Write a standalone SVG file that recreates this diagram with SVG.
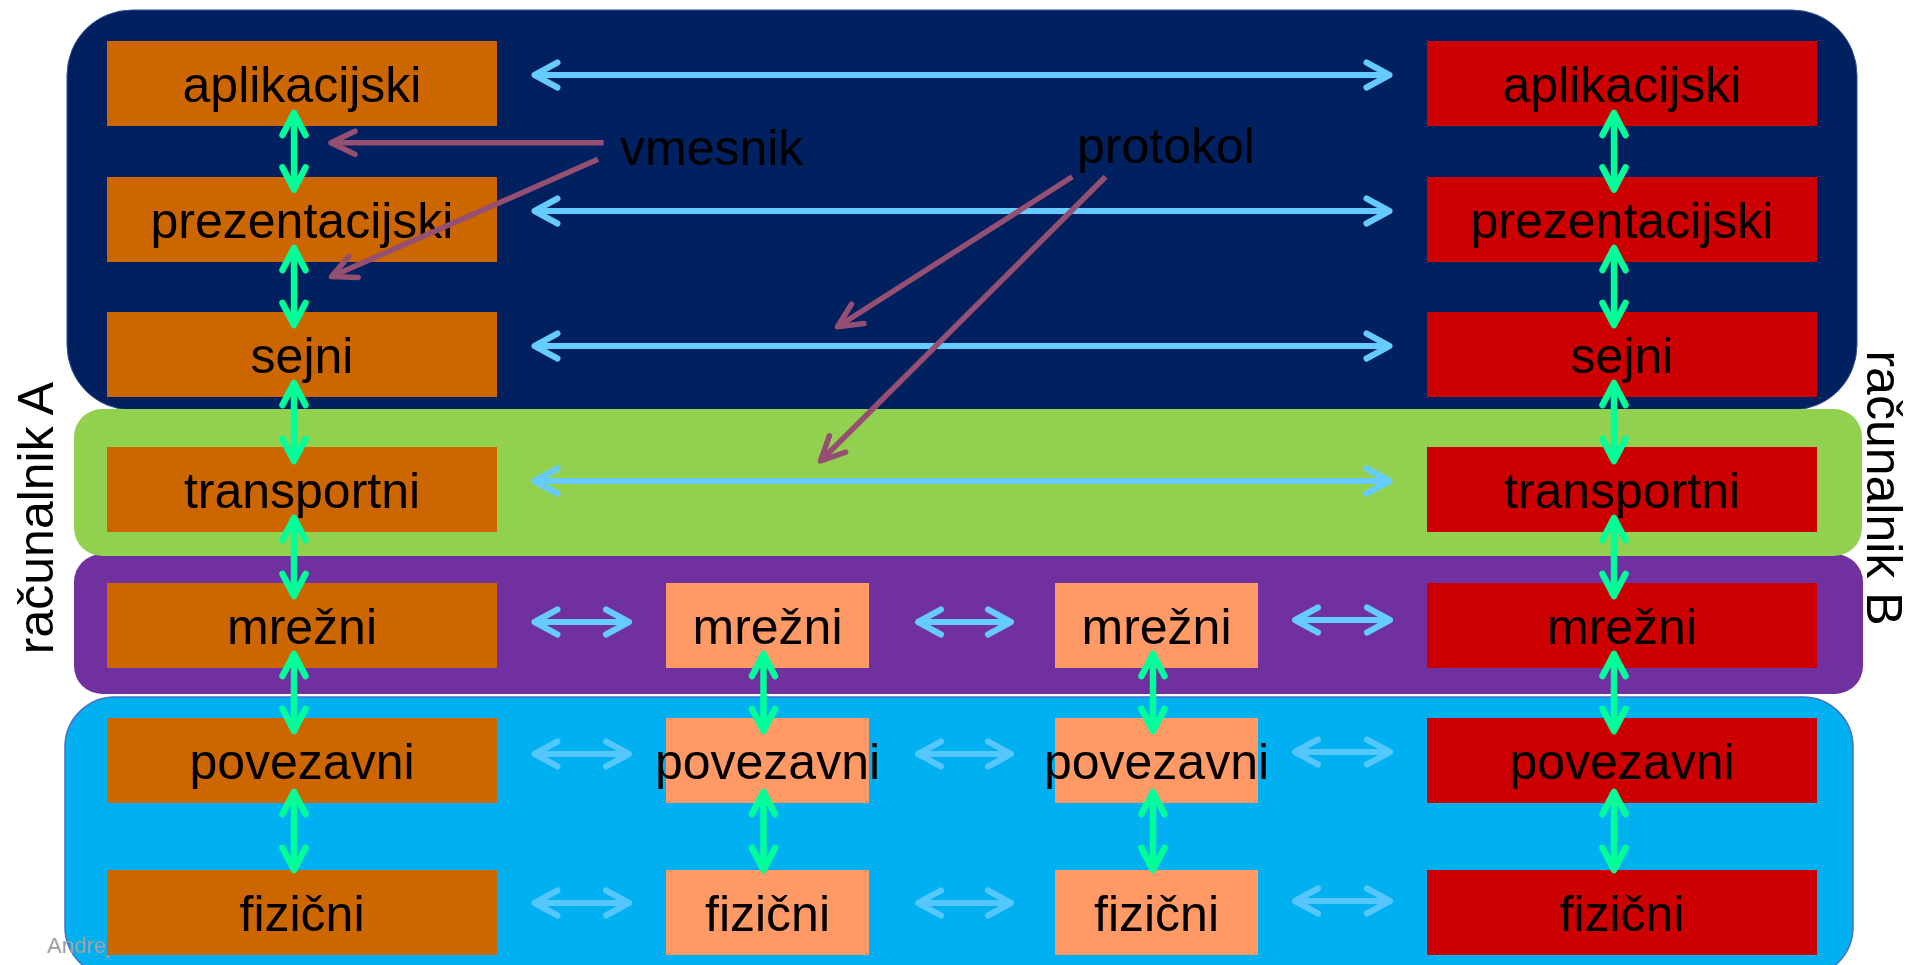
<svg xmlns="http://www.w3.org/2000/svg" width="1924" height="965" viewBox="0 0 1924 965">
<style>
.lbl{font-family:"Liberation Sans",Arial,sans-serif;font-size:50px;fill:#000;text-anchor:middle}
.free{font-family:"Liberation Sans",Arial,sans-serif;font-size:50px;fill:#000}
.a{fill:#CC6600}
.b{fill:#CC0000}
.r{fill:#FF9966}
.bl{stroke:#66CCFF;stroke-width:6;fill:none;marker-start:url(#hb);marker-end:url(#hb)}
.pale{opacity:0.85}
.gr{stroke:#00FF99;stroke-width:6.5;fill:none;marker-start:url(#hg);marker-end:url(#hg)}
.mv{stroke:#954F72;stroke-width:5.5;fill:none;marker-end:url(#hm)}
</style>
<defs>
<marker id="hb" markerUnits="userSpaceOnUse" markerWidth="40" markerHeight="40" refX="0" refY="0" orient="auto-start-reverse" overflow="visible">
<path d="M-23,-12.5 L0,0 L-23,12.5" fill="none" stroke="#66CCFF" stroke-width="6" stroke-linecap="round" stroke-linejoin="round"/>
</marker>
<marker id="hg" markerUnits="userSpaceOnUse" markerWidth="40" markerHeight="40" refX="0" refY="0" orient="auto-start-reverse" overflow="visible">
<path d="M-22,-11.5 L0,0 L-22,11.5" fill="none" stroke="#00FF99" stroke-width="6.5" stroke-linecap="round" stroke-linejoin="round"/>
</marker>
<marker id="hm" markerUnits="userSpaceOnUse" markerWidth="40" markerHeight="40" refX="0" refY="0" orient="auto" overflow="visible">
<path d="M-24,-11.5 L0,0 L-24,11.5" fill="none" stroke="#954F72" stroke-width="5.5" stroke-linecap="round" stroke-linejoin="round"/>
</marker>
</defs>
<rect width="1924" height="965" fill="#FFFFFF"/>
<g id="panels">
<rect x="67" y="10" width="1790" height="400" rx="65" ry="65" fill="#002060" stroke="#2F528F" stroke-width="1"/>
<rect x="74" y="554" width="1789" height="140" rx="28" ry="28" fill="#7030A0"/>
<rect x="74" y="409" width="1788" height="147" rx="28" ry="28" fill="#92D050"/>
<rect x="65" y="697" width="1788" height="280" rx="50" ry="50" fill="#00B0F0" stroke="#4472C4" stroke-width="1.5"/>
<text x="47" y="953" font-family="Liberation Sans, Arial, sans-serif" font-size="22" fill="#A0A0A0">Andrej</text>
</g>
<g id="labels">
<text class="free" x="620" y="165">vmesnik</text>
<text class="free" x="1077" y="163">protokol</text>
<text class="lbl" transform="translate(53,518) rotate(-90)">računalnik A</text>
<text class="lbl" transform="translate(1867,488) rotate(90)">računalnik B</text>
</g>
<g id="A-aplikacijski"><rect class="a" x="107" y="41" width="390" height="85"/><text class="lbl" x="302" y="102">aplikacijski</text></g>
<g id="A-prezentacijski"><rect class="a" x="107" y="177" width="390" height="85"/><text class="lbl" x="302" y="238">prezentacijski</text></g>
<g id="A-sejni"><rect class="a" x="107" y="312" width="390" height="85"/><text class="lbl" x="302" y="373">sejni</text></g>
<g id="A-transportni"><rect class="a" x="107" y="447" width="390" height="85"/><text class="lbl" x="302" y="508">transportni</text></g>
<g id="A-mrezni"><rect class="a" x="107" y="583" width="390" height="85"/><text class="lbl" x="302" y="644">mrežni</text></g>
<g id="A-povezavni"><rect class="a" x="107" y="718" width="390" height="85"/><text class="lbl" x="302" y="779">povezavni</text></g>
<g id="A-fizicni"><rect class="a" x="107" y="870" width="390" height="85"/><text class="lbl" x="302" y="931">fizični</text></g>
<g id="B-aplikacijski"><rect class="b" x="1427" y="41" width="390" height="85"/><text class="lbl" x="1622" y="102">aplikacijski</text></g>
<g id="B-prezentacijski"><rect class="b" x="1427" y="177" width="390" height="85"/><text class="lbl" x="1622" y="238">prezentacijski</text></g>
<g id="B-sejni"><rect class="b" x="1427" y="312" width="390" height="85"/><text class="lbl" x="1622" y="373">sejni</text></g>
<g id="B-transportni"><rect class="b" x="1427" y="447" width="390" height="85"/><text class="lbl" x="1622" y="508">transportni</text></g>
<g id="B-mrezni"><rect class="b" x="1427" y="583" width="390" height="85"/><text class="lbl" x="1622" y="644">mrežni</text></g>
<g id="B-povezavni"><rect class="b" x="1427" y="718" width="390" height="85"/><text class="lbl" x="1622" y="779">povezavni</text></g>
<g id="B-fizicni"><rect class="b" x="1427" y="870" width="390" height="85"/><text class="lbl" x="1622" y="931">fizični</text></g>
<g id="R1-mrezni"><rect class="r" x="666" y="583" width="203" height="85"/><text class="lbl" x="767.5" y="644">mrežni</text></g>
<g id="R1-povezavni"><rect class="r" x="666" y="718" width="203" height="85"/><text class="lbl" x="767.5" y="779">povezavni</text></g>
<g id="R1-fizicni"><rect class="r" x="666" y="870" width="203" height="85"/><text class="lbl" x="767.5" y="931">fizični</text></g>
<g id="R2-mrezni"><rect class="r" x="1055" y="583" width="203" height="85"/><text class="lbl" x="1156.5" y="644">mrežni</text></g>
<g id="R2-povezavni"><rect class="r" x="1055" y="718" width="203" height="85"/><text class="lbl" x="1156.5" y="779">povezavni</text></g>
<g id="R2-fizicni"><rect class="r" x="1055" y="870" width="203" height="85"/><text class="lbl" x="1156.5" y="931">fizični</text></g>
<g id="connectors">
<line class="bl" x1="534.5" y1="75" x2="1389.5" y2="75"/>
<line class="bl" x1="534.5" y1="211" x2="1389.5" y2="211"/>
<line class="bl" x1="534.5" y1="346" x2="1389.5" y2="346"/>
<line class="bl" x1="534.5" y1="481" x2="1389.5" y2="481"/>
<line class="bl" x1="534.5" y1="622" x2="629" y2="622"/>
<line class="bl" x1="918" y1="622" x2="1011" y2="622"/>
<line class="bl" x1="1295" y1="620" x2="1390" y2="620"/>
<line class="bl pale" x1="534.5" y1="754" x2="629" y2="754"/>
<line class="bl pale" x1="918" y1="754" x2="1011" y2="754"/>
<line class="bl pale" x1="1295" y1="752" x2="1390" y2="752"/>
<line class="bl pale" x1="534.5" y1="903" x2="629" y2="903"/>
<line class="bl pale" x1="918" y1="903" x2="1011" y2="903"/>
<line class="bl pale" x1="1295" y1="901" x2="1390" y2="901"/>
<line class="gr" x1="294" y1="113" x2="294" y2="189.5"/>
<line class="gr" x1="294" y1="248" x2="294" y2="325"/>
<line class="gr" x1="294" y1="383" x2="294" y2="461"/>
<line class="gr" x1="294" y1="518" x2="294" y2="596"/>
<line class="gr" x1="294" y1="654" x2="294" y2="731"/>
<line class="gr" x1="294" y1="792" x2="294" y2="870"/>
<line class="gr" x1="1614" y1="113" x2="1614" y2="189.5"/>
<line class="gr" x1="1614" y1="248" x2="1614" y2="325"/>
<line class="gr" x1="1614" y1="383" x2="1614" y2="461"/>
<line class="gr" x1="1614" y1="518" x2="1614" y2="596"/>
<line class="gr" x1="1614" y1="654" x2="1614" y2="731"/>
<line class="gr" x1="1614" y1="792" x2="1614" y2="870"/>
<line class="gr" x1="763.5" y1="654" x2="763.5" y2="731"/>
<line class="gr" x1="763.5" y1="792" x2="763.5" y2="870"/>
<line class="gr" x1="1153" y1="654" x2="1153" y2="731"/>
<line class="gr" x1="1153" y1="792" x2="1153" y2="870"/>
<line class="mv" x1="603.6" y1="142.7" x2="331" y2="142.7"/>
<line class="mv" x1="598" y1="159.3" x2="331.5" y2="276.6"/>
<line class="mv" x1="1072.3" y1="176.7" x2="837.5" y2="326.8"/>
<line class="mv" x1="1105.6" y1="176.7" x2="820.5" y2="461"/>
</g>
</svg>
